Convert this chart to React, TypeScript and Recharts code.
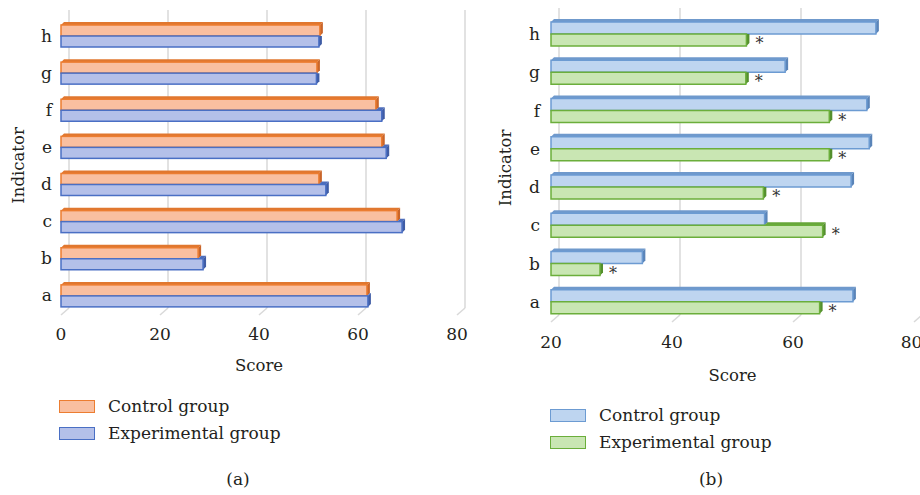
import React from 'react';
import { BarChart, Bar, XAxis, YAxis, CartesianGrid, LabelList } from 'recharts';

// indicators, bottom to top
const categories = ['a', 'b', 'c', 'd', 'e', 'f', 'g', 'h'];

// panel (a)
const controlA = [61.8, 27.7, 67.9, 52.1, 64.8, 63.6, 51.7, 52.3];
const experimentalA = [62, 28.7, 68.9, 53.5, 65.7, 64.8, 51.6, 52.1];
const ticksA = [0, 20, 40, 60, 80];

// panel (b)
const controlB = [69.9, 35.1, 55.3, 69.6, 72.6, 72.2, 58.7, 73.7];
const experimentalB = [64.4, 28.1, 64.9, 55.1, 66, 66, 52.2, 52.3];
const ticksB = [20, 40, 60, 80];

const legendLabels = ['Control group', 'Experimental group'];

const rowsA = categories.map((name, i) => ({ name, control: controlA[i], experimental: experimentalA[i] }));
const rowsB = categories.map((name, i) => ({ name, control: controlB[i], experimental: experimentalB[i] }));

const FONT = "'DejaVu Serif', 'Liberation Serif', 'Times New Roman', serif";
const INK = '#231F20';
const GRID = '#D9D9D9';
const DEPTH = 3;

type Palette = { face: string; edge: string; top: string; side: string };

const orange: Palette = { face: '#F9BFA0', edge: '#EC7D31', top: '#E0772F', side: '#C9652A' };
const indigo: Palette = { face: '#B4C0E9', edge: '#4A6FC4', top: '#4D6DBB', side: '#3F5CA5' };
const sky: Palette = { face: '#BED5F0', edge: '#6C9BD2', top: '#6F99CC', side: '#5A84B8' };
const leaf: Palette = { face: '#C9E6B3', edge: '#6BAE3B', top: '#67A63A', side: '#548F2D' };

// bar with a small 3d top and end face; the lower bar of a pair hides its top face behind the upper bar
function bar3d(pal: Palette, ownKey: string, upperKey?: string, base = 0) {
  return (props: any) => {
    const { x, y, width, height, payload } = props;
    if (width == null || width <= 0) return <g />;
    const d = DEPTH;
    let topFrom = x;
    let sideTop = y - d;
    if (upperKey) {
      const ow = (width * (payload[upperKey] - base)) / (payload[ownKey] - base);
      topFrom = x + Math.min(ow, width);
      if (ow >= width) sideTop = y;
    }
    return (
      <g>
        {topFrom < x + width && (
          <polygon
            points={`${topFrom},${y} ${topFrom + d},${y - d} ${x + width + d},${y - d} ${x + width},${y}`}
            fill={pal.top}
          />
        )}
        <polygon
          points={`${x + width},${y} ${x + width + d},${sideTop} ${x + width + d},${y + height - d} ${x + width},${y + height}`}
          fill={pal.side}
        />
        <rect x={x} y={y} width={width} height={height} fill={pal.face} stroke={pal.edge} strokeWidth={1.5} />
      </g>
    );
  };
}

// back-wall grid line with a short floor segment
const backLine = (props: any) => {
  const { x1, y1, y2 } = props;
  return (
    <g key={`grid-${x1}`}>
      <line x1={x1 + 8} y1={y1 - 7} x2={x1 + 8} y2={y2 - 6} stroke={GRID} strokeWidth={1.5} />
      <line x1={x1} y1={y2 + 1} x2={x1 + 8} y2={y2 - 6} stroke={GRID} strokeWidth={1.5} />
    </g>
  );
};

const indicatorLabel = (cx: number) => (props: any) => {
  const vb = props.viewBox;
  const cy = vb.y + vb.height / 2;
  return (
    <text
      x={cx}
      y={cy}
      transform={`rotate(-90 ${cx} ${cy})`}
      textAnchor="middle"
      dominantBaseline="central"
      fontFamily={FONT}
      fontSize={16.5}
      fill={INK}
    >
      Indicator
    </text>
  );
};

const asterisk = (props: any) => {
  const { x, y, width, height } = props;
  return (
    <text x={x + width + 13} y={y + height / 2 + 9} textAnchor="middle" fontFamily={FONT} fontSize={16} fill="#333">
      *
    </text>
  );
};

const tickStyle = { fill: INK, fontSize: 17, fontFamily: FONT };

function LegendBox({ left, top, pals }: { left: number; top: number; pals: Palette[] }) {
  return (
    <div style={{ position: 'absolute', left, top }}>
      {legendLabels.map((label, i) => (
        <div key={label} style={{ display: 'flex', alignItems: 'center', height: 27 }}>
          <div
            style={{
              width: 34,
              height: 11,
              background: pals[i].face,
              border: `1.5px solid ${pals[i].edge}`,
              marginRight: 13,
            }}
          />
          <span style={{ fontFamily: FONT, fontSize: 17, color: INK, lineHeight: '27px' }}>{label}</span>
        </div>
      ))}
    </div>
  );
}

export default function App() {
  return (
    <div
      style={{ position: 'absolute', left: 0, top: 0, width: 920, height: 495, overflow: 'hidden', background: '#fff' }}
    >
      <div style={{ position: 'absolute', left: 0, top: 0 }}>
        <BarChart
          width={470}
          height={400}
          data={rowsA}
          layout="vertical"
          margin={{ top: 17, right: 13, bottom: 56, left: 0 }}
          barSize={11}
          barGap={0}
        >
          <CartesianGrid horizontal={false} vertical={backLine} />
          <XAxis
            type="number"
            domain={[0, 80]}
            ticks={ticksA}
            axisLine={false}
            tickLine={false}
            tickSize={0}
            tickMargin={14}
            height={30}
            tick={tickStyle}
            label={{ value: 'Score', position: 'bottom', offset: 15, fill: INK, fontSize: 16.5, fontFamily: FONT }}
          />
          <YAxis
            type="category"
            dataKey="name"
            reversed
            width={61}
            axisLine={false}
            tickLine={false}
            tickSize={0}
            tickMargin={9}
            tick={tickStyle}
            label={{ content: indicatorLabel(18) }}
          />
          <Bar dataKey="control" isAnimationActive={false} shape={bar3d(orange, 'control')} />
          <Bar
            dataKey="experimental"
            isAnimationActive={false}
            shape={bar3d(indigo, 'experimental', 'control', 0)}
          />
        </BarChart>
      </div>

      <div style={{ position: 'absolute', left: 480, top: 0 }}>
        <BarChart
          width={440}
          height={400}
          data={rowsB}
          layout="vertical"
          margin={{ top: 15, right: 6, bottom: 49, left: 0 }}
          barSize={12}
          barGap={0}
        >
          <CartesianGrid horizontal={false} vertical={backLine} />
          <XAxis
            type="number"
            domain={[20, 80]}
            ticks={ticksB}
            axisLine={false}
            tickLine={false}
            tickSize={0}
            tickMargin={15}
            height={30}
            tick={tickStyle}
            label={{ value: 'Score', position: 'bottom', offset: 18, fill: INK, fontSize: 16.5, fontFamily: FONT }}
          />
          <YAxis
            type="category"
            dataKey="name"
            reversed
            width={71}
            axisLine={false}
            tickLine={false}
            tickSize={0}
            tickMargin={11}
            tick={tickStyle}
            label={{ content: indicatorLabel(25.5) }}
          />
          <Bar dataKey="control" isAnimationActive={false} shape={bar3d(sky, 'control')} />
          <Bar
            dataKey="experimental"
            isAnimationActive={false}
            shape={bar3d(leaf, 'experimental', 'control', 20)}
          >
            <LabelList dataKey="experimental" content={asterisk} />
          </Bar>
        </BarChart>
      </div>

      <LegendBox left={59} top={393} pals={[orange, indigo]} />
      <LegendBox left={550} top={402} pals={[sky, leaf]} />

      <div
        style={{ position: 'absolute', left: 188, width: 100, top: 469, textAlign: 'center', fontFamily: FONT, fontSize: 17, color: INK }}
      >
        (a)
      </div>
      <div
        style={{ position: 'absolute', left: 661, width: 100, top: 469, textAlign: 'center', fontFamily: FONT, fontSize: 17, color: INK }}
      >
        (b)
      </div>
    </div>
  );
}
